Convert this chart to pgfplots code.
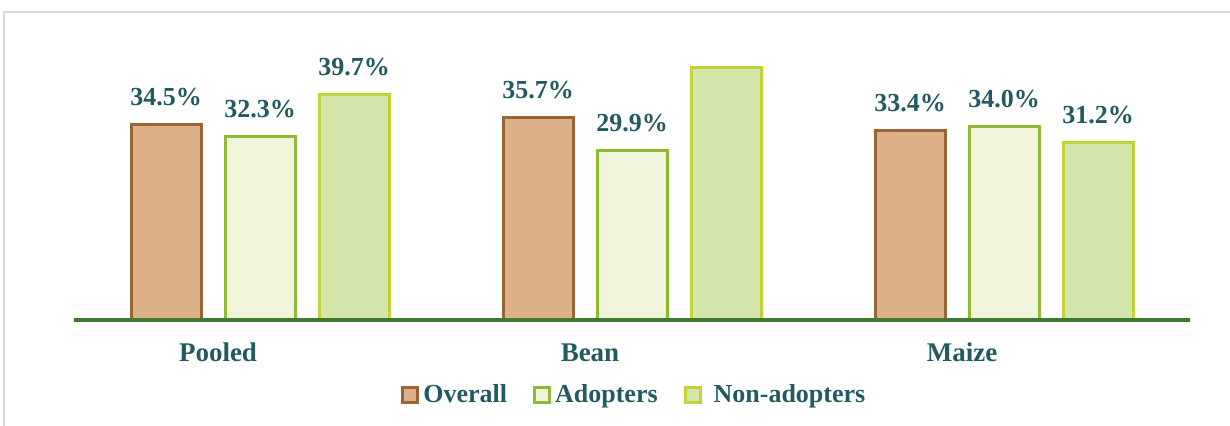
\documentclass[border=0pt]{standalone}
\usepackage{pgfplots}
\pgfplotsset{compat=1.18}
\usepackage{fontspec}
\setmainfont{Liberation Serif}
\definecolor{teal2}{HTML}{215A60}
\definecolor{ovfill}{HTML}{DDB088}
\definecolor{ovdraw}{HTML}{9A6534}
\definecolor{adfill}{HTML}{EFF4DA}
\definecolor{addraw}{HTML}{8DB935}
\definecolor{nafill}{HTML}{D5E6AA}
\definecolor{nadraw}{HTML}{C3D235}
\definecolor{axgreen}{HTML}{3F7A2E}
\definecolor{framegray}{HTML}{D9D9D9}
\begin{document}
\begin{tikzpicture}
\useasboundingbox (0,0) rectangle (615bp,213bp);
\draw[color=framegray, line width=1bp] (2bp,0) -- (2bp,207bp) -- (615bp,207bp);
\begin{axis}[
  at={(37bp,53bp)}, anchor=south west,
  width=558bp, height=142bp, scale only axis,
  xmin=-0.5, xmax=2.5, ymin=0, ymax=50,
  ybar=12bp, bar width=35bp,
  axis y line=none,
  axis x line*=bottom,
  x axis line style={-, color=axgreen, line width=1.75bp},
  axis on top,
  xtick={0,1,2}, xticklabels={Pooled,Bean,Maize},
  major tick length=0pt,
  xticklabel style={font=\bfseries\fontsize{13.5bp}{16bp}\selectfont, text=teal2, xshift=-21bp, anchor=base, yshift=-20.5bp, inner sep=0pt},
  point meta=explicit symbolic,
  nodes near coords,
  every node near coord/.append style={font=\bfseries\fontsize{13bp}{15bp}\selectfont, text=teal2, inner sep=0pt, anchor=base, yshift=9.5bp},
  legend columns=3,
  legend image code/.code={\draw[#1, line width=1.5bp] (0bp,-3.75bp) rectangle (7.5bp,3.75bp);},
  legend style={draw=none, fill=none, at={(0.503,-0.264)}, anchor=center,
    font=\bfseries\fontsize{13bp}{15bp}\selectfont, text=teal2,
    /tikz/every even column/.append style={column sep=11bp}},
]
\addplot[fill=ovfill, draw=ovdraw, line width=1.5bp] coordinates {(0,34.5)[34.5\%] (1,35.7)[35.7\%] (2,33.4)[33.4\%]};
\addplot[fill=adfill, draw=addraw, line width=1.5bp] coordinates {(0,32.3)[32.3\%] (1,29.9)[29.9\%] (2,34.0)[34.0\%]};
\addplot[fill=nafill, draw=nadraw, line width=1.5bp] coordinates {(0,39.7)[39.7\%] (1,44.5)[{}] (2,31.2)[31.2\%]};
\legend{Overall,Adopters,\hspace{4bp}Non-adopters}
\end{axis}
\end{tikzpicture}
\end{document}
